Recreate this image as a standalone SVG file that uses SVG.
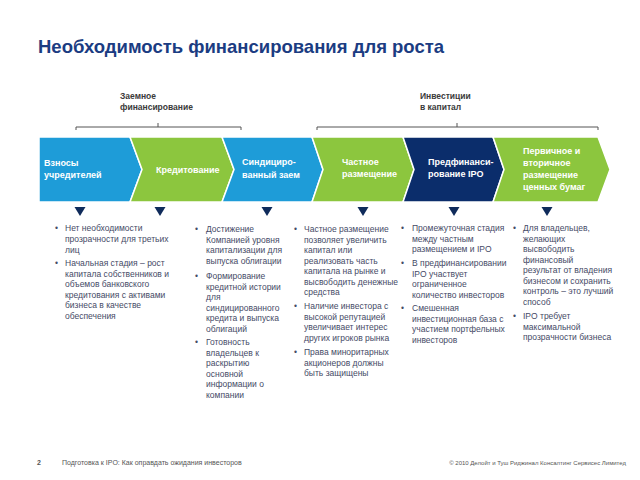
<svg xmlns="http://www.w3.org/2000/svg" width="640" height="480" viewBox="0 0 640 480">
<defs>
<style>
.title{font-family:"Liberation Sans",Arial,sans-serif;font-size:18.5px;font-weight:bold;fill:#1B3C82}
.grp{font-family:"Liberation Sans",Arial,sans-serif;font-size:8.5px;font-weight:bold;fill:#3a3a3a}
.cl{font-family:"Liberation Sans",Arial,sans-serif;font-size:9px;font-weight:bold;fill:#ffffff}
.bt{font-family:"Liberation Sans",Arial,sans-serif;font-size:8.5px;fill:#454a66}
.ft{font-family:"Liberation Sans",Arial,sans-serif;font-size:7px;fill:#555}
.ft2{font-family:"Liberation Sans",Arial,sans-serif;font-size:6px;fill:#555}
.blue{fill:#1E9CD8;stroke:#fff;stroke-width:1.5}
.green{fill:#8CC63E;stroke:#fff;stroke-width:1.5}
.navy{fill:#0B2D6B;stroke:#fff;stroke-width:1.5}
.tri{fill:#0F2B5B}
.br{fill:none;stroke:#555;stroke-width:1}
</style>
<polygon id="tri" points="-5.5,0 5.5,0 0,9"/>
</defs>
<rect width="640" height="480" fill="#fff"/>
<text class="title" x="38" y="53">Необходимость финансирования для роста</text>

<g id="group-labels">
<text class="grp" x="120" y="99">Заемное</text>
<text class="grp" x="120" y="110">финансирование</text>
<text class="grp" x="420" y="99">Инвестиции</text>
<text class="grp" x="420" y="110">в капитал</text>
</g>

<g id="connectors">
<path class="br" d="M76,130 V127 H241 V130 M158,127 V123"/>
<path class="br" d="M317,130 V127 H598 V130 M457,127 V123"/>
<use href="#tri" class="tri" x="80" y="207"/>
<use href="#tri" class="tri" x="160" y="207"/>
<use href="#tri" class="tri" x="267" y="207"/>
<use href="#tri" class="tri" x="363" y="207"/>
<use href="#tri" class="tri" x="454" y="207"/>
<use href="#tri" class="tri" x="547" y="207"/>
</g>

<g id="n1">
<polygon class="blue" points="39,137 130,137 142,169.5 130,202 39,202"/>
<text class="cl" x="44" y="166">Взносы</text>
<text class="cl" x="44" y="178">учредителей</text>
</g>
<g id="n2">
<polygon class="green" points="130,137 222,137 234,169.5 222,202 130,202 142,169.5"/>
<text class="cl" x="156" y="173">Кредитование</text>
</g>
<g id="n3">
<polygon class="blue" points="222,137 312,137 323,169.5 312,202 222,202 234,169.5"/>
<text class="cl" x="242" y="165">Синдициро-</text>
<text class="cl" x="242" y="178">ванный заем</text>
</g>
<g id="n4">
<polygon class="green" points="312,137 403,137 414,169.5 403,202 312,202 323,169.5"/>
<text class="cl" x="342" y="165">Частное</text>
<text class="cl" x="342" y="177">размещение</text>
</g>
<g id="n5">
<polygon class="navy" points="403,137 493,137 504,169.5 493,202 403,202 414,169.5"/>
<text class="cl" x="428" y="165">Предфинанси-</text>
<text class="cl" x="428" y="177">рование IPO</text>
</g>
<g id="n6">
<polygon class="green" points="493,137 598,137 610,169.5 598,202 493,202 504,169.5"/>
<text class="cl" x="523" y="154">Первичное и</text>
<text class="cl" x="523" y="166">вторичное</text>
<text class="cl" x="523" y="178">размещение</text>
<text class="cl" x="523" y="190">ценных бумаг</text>
</g>

<g id="col1" class="bt">
<text x="55" y="231">•</text>
<text x="65" y="231">Нет необходимости</text>
<text x="65" y="242">прозрачности для третьих</text>
<text x="65" y="252.5">лиц</text>
<text x="55" y="266">•</text>
<text x="65" y="266">Начальная стадия – рост</text>
<text x="65" y="276.5">капитала собственников и</text>
<text x="65" y="287">объемов банковского</text>
<text x="65" y="297.5">кредитования с активами</text>
<text x="65" y="308">бизнеса в качестве</text>
<text x="65" y="318.5">обеспечения</text>
</g>

<g id="col2" class="bt">
<text x="195" y="232">•</text>
<text x="206" y="232">Достижение</text>
<text x="206" y="242.5">Компанией уровня</text>
<text x="206" y="253">капитализации для</text>
<text x="206" y="263.5">выпуска облигации</text>
<text x="195" y="279">•</text>
<text x="206" y="279">Формирование</text>
<text x="206" y="289.5">кредитной истории</text>
<text x="206" y="300">для</text>
<text x="206" y="310.5">синдицированного</text>
<text x="206" y="321">кредита и выпуска</text>
<text x="206" y="331.5">облигаций</text>
<text x="195" y="345">•</text>
<text x="206" y="345">Готовность</text>
<text x="206" y="355.5">владельцев к</text>
<text x="206" y="366">раскрытию</text>
<text x="206" y="376.5">основной</text>
<text x="206" y="387">информации о</text>
<text x="206" y="397.5">компании</text>
</g>

<g id="col3" class="bt">
<text x="294" y="232">•</text>
<text x="304" y="232">Частное размещение</text>
<text x="304" y="242.5">позволяет увеличить</text>
<text x="304" y="253">капитал или</text>
<text x="304" y="263.5">реализовать часть</text>
<text x="304" y="274">капитала на рынке и</text>
<text x="304" y="284.5">высвободить денежные</text>
<text x="304" y="295">средства</text>
<text x="294" y="309">•</text>
<text x="304" y="309">Наличие инвестора с</text>
<text x="304" y="319.5">высокой репутацией</text>
<text x="304" y="330">увеличивает интерес</text>
<text x="304" y="340.5">других игроков рынка</text>
<text x="294" y="355">•</text>
<text x="304" y="355">Права миноритарных</text>
<text x="304" y="365.5">акционеров должны</text>
<text x="304" y="376">быть защищены</text>
</g>

<g id="col4" class="bt">
<text x="401" y="231">•</text>
<text x="412" y="231">Промежуточная стадия</text>
<text x="412" y="241.5">между частным</text>
<text x="412" y="252">размещением и IPO</text>
<text x="401" y="266">•</text>
<text x="412" y="266">В предфинансировании</text>
<text x="412" y="276.5">IPO участвует</text>
<text x="412" y="287">ограниченное</text>
<text x="412" y="297.5">количество инвесторов</text>
<text x="401" y="311">•</text>
<text x="412" y="311">Смешенная</text>
<text x="412" y="321.5">инвестиционная база с</text>
<text x="412" y="332">участием портфельных</text>
<text x="412" y="342.5">инвесторов</text>
</g>

<g id="col5" class="bt">
<text x="513" y="231">•</text>
<text x="523" y="231">Для владельцев,</text>
<text x="523" y="241.5">желающих</text>
<text x="523" y="252">высвободить</text>
<text x="523" y="262.5">финансовый</text>
<text x="523" y="273">результат от владения</text>
<text x="523" y="283.5">бизнесом и сохранить</text>
<text x="523" y="294">контроль – это лучший</text>
<text x="523" y="304.5">способ</text>
<text x="513" y="319">•</text>
<text x="523" y="319">IPO требует</text>
<text x="523" y="329.5">максимальной</text>
<text x="523" y="340">прозрачности бизнеса</text>
</g>

<g id="footer">
<text class="ft" x="37" y="465" font-weight="bold" fill="#333">2</text>
<text class="ft" x="62" y="465">Подготовка к IPO: Как оправдать ожидания инвесторов</text>
<text class="ft2" x="626" y="465" text-anchor="end">© 2010 Делойт и Туш Риджинал Консалтинг Сервисес Лимитед</text>
</g>
</svg>
